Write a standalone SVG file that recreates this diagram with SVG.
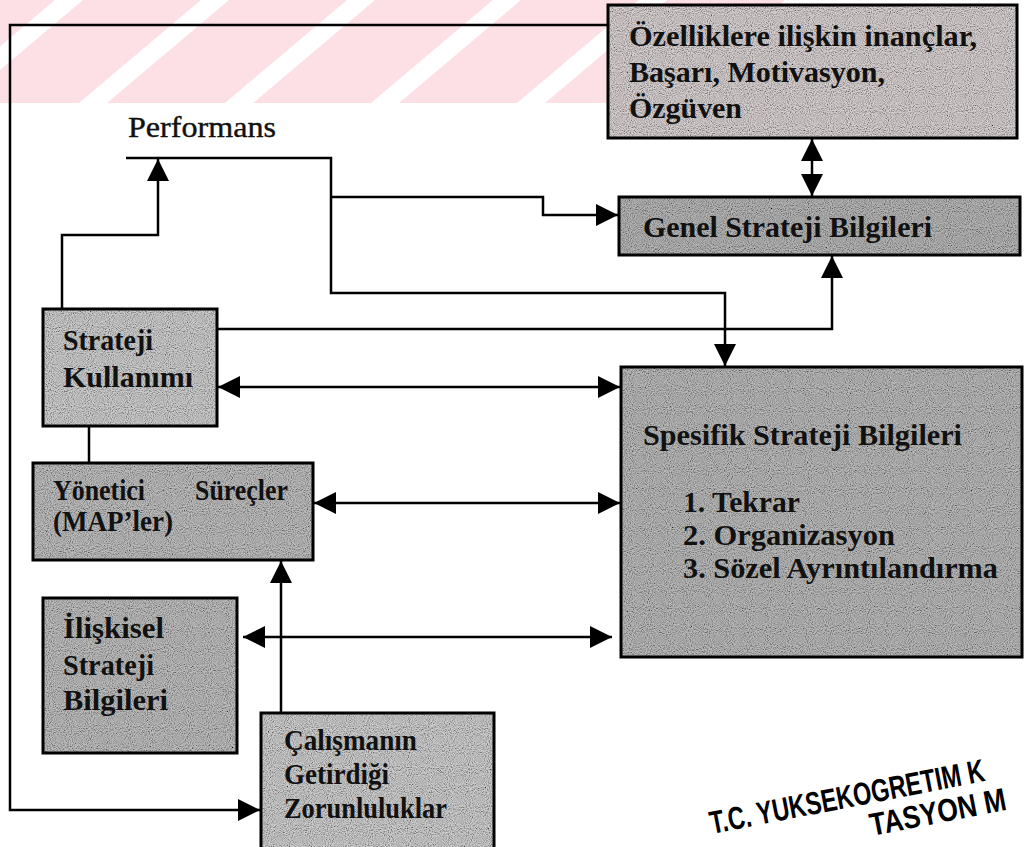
<svg xmlns="http://www.w3.org/2000/svg" width="1027" height="847" viewBox="0 0 1027 847">
<defs>
<style>
.box{fill:none;stroke:#000;stroke-width:3}
.fill{fill:#c4c4c4;filter:url(#grain)}
.ln{fill:none;stroke:#000;stroke-width:2.5}
.t{font-family:"Liberation Serif","Times New Roman",serif;font-size:30px;font-weight:bold;fill:#111}
.r{font-weight:normal;stroke:#111;stroke-width:0.4}
.stamp{font-family:"Liberation Sans",Arial,sans-serif;font-weight:bold;font-size:32px;fill:#000}
</style>
<filter id="grain" filterUnits="objectBoundingBox" x="0" y="0" width="1" height="1">
<feTurbulence type="fractalNoise" baseFrequency="0.95" numOctaves="1" seed="4" result="t"/>
<feColorMatrix in="t" type="matrix" values="0.33 0.33 0.33 0 0 0.33 0.33 0.33 0 0 0.33 0.33 0.33 0 0 0 0 0 0 1" result="g"/>
<feComponentTransfer in="g" result="c">
<feFuncR type="linear" slope="3" intercept="-0.7"/>
<feFuncG type="linear" slope="3" intercept="-0.7"/>
<feFuncB type="linear" slope="3" intercept="-0.7"/>
<feFuncA type="linear" slope="0" intercept="1"/>
</feComponentTransfer>
<feBlend in="SourceGraphic" in2="c" mode="multiply" result="m"/>
<feComposite in="m" in2="SourceGraphic" operator="in"/>
</filter>
<marker id="ah" viewBox="0 0 10 10" refX="10" refY="5" markerWidth="22" markerHeight="22" orient="auto-start-reverse" markerUnits="userSpaceOnUse">
<path d="M0,0 L10,5 L0,10 z" fill="#000"/>
</marker>
</defs>
<rect width="1027" height="847" fill="#fff"/>
<g id="watermark" fill="#fce0e6">
<polygon points="-63,0 55,0 -67,103 -185,103"/>
<polygon points="83,0 201,0 79,103 -39,103"/>
<polygon points="229,0 347,0 225,103 107,103"/>
<polygon points="375,0 493,0 371,103 253,103"/>
<polygon points="521,0 639,0 517,103 399,103"/>
<polygon points="667,0 785,0 663,103 545,103"/>
</g>
<g id="connectors">
<path class="ln" d="M608,25 H10 V810 H260" marker-end="url(#ah)"/>
<path class="ln" d="M126,158 H331 V293 H725 V366" marker-end="url(#ah)"/>
<path class="ln" d="M331,197 H543 V215 H618" marker-end="url(#ah)"/>
<path class="ln" d="M62,309 V235 H158 V159" marker-end="url(#ah)"/>
<path class="ln" d="M217,329 H832 V256" marker-end="url(#ah)"/>
<path class="ln" d="M218,387 H620" marker-start="url(#ah)" marker-end="url(#ah)"/>
<path class="ln" d="M89,426 V463"/>
<path class="ln" d="M314,503 H620" marker-start="url(#ah)" marker-end="url(#ah)"/>
<path class="ln" d="M281,713 V561" marker-end="url(#ah)"/>
<path class="ln" d="M243,637 H612" marker-start="url(#ah)" marker-end="url(#ah)"/>
<path class="ln" d="M812,139 V196" marker-start="url(#ah)" marker-end="url(#ah)"/>
</g>
<g id="ozellikler">
<rect class="fill" x="608" y="5" width="409" height="133" style="fill:#d6cfd0"/>
<rect class="box" x="608" y="5" width="409" height="133"/>
<text class="t" x="629" y="46" textLength="348" lengthAdjust="spacingAndGlyphs">Özelliklere ilişkin inançlar,</text>
<text class="t" x="629" y="82" textLength="256" lengthAdjust="spacingAndGlyphs">Başarı, Motivasyon,</text>
<text class="t" x="629" y="118" textLength="113" lengthAdjust="spacingAndGlyphs">Özgüven</text>
</g>
<g id="performans">
<text class="t r" x="128" y="137" textLength="148" lengthAdjust="spacingAndGlyphs">Performans</text>
</g>
<g id="genel">
<rect class="fill" x="619" y="197" width="401" height="58" style="fill:#b4b4b4"/>
<rect class="box" x="619" y="197" width="401" height="58"/>
<text class="t" x="643" y="237" textLength="289" lengthAdjust="spacingAndGlyphs">Genel Strateji Bilgileri</text>
</g>
<g id="strateji-kullanimi">
<rect class="fill" x="43" y="309" width="174" height="117" style="fill:#cccccc"/>
<rect class="box" x="43" y="309" width="174" height="117"/>
<text class="t" x="63" y="350" textLength="90" lengthAdjust="spacingAndGlyphs">Strateji</text>
<text class="t" x="63" y="387" textLength="130" lengthAdjust="spacingAndGlyphs">Kullanımı</text>
</g>
<g id="spesifik">
<rect class="fill" x="621" y="367" width="401" height="290" style="fill:#b8b8b8"/>
<rect class="box" x="621" y="367" width="401" height="290"/>
<text class="t" x="643" y="445" textLength="319" lengthAdjust="spacingAndGlyphs">Spesifik Strateji Bilgileri</text>
<text class="t" x="683" y="512" textLength="117" lengthAdjust="spacingAndGlyphs">1. Tekrar</text>
<text class="t" x="683" y="545" textLength="212" lengthAdjust="spacingAndGlyphs">2. Organizasyon</text>
<text class="t" x="683" y="578" textLength="315" lengthAdjust="spacingAndGlyphs">3. Sözel Ayrıntılandırma</text>
</g>
<g id="yonetici">
<rect class="fill" x="33" y="463" width="280" height="97" style="fill:#bcbcbc"/>
<rect class="box" x="33" y="463" width="280" height="97"/>
<text class="t" x="53" y="500" textLength="92" lengthAdjust="spacingAndGlyphs">Yönetici</text>
<text class="t" x="195" y="500" textLength="93" lengthAdjust="spacingAndGlyphs">Süreçler</text>
<text class="t" x="53" y="531" textLength="120" lengthAdjust="spacingAndGlyphs">(MAP’ler)</text>
</g>
<g id="iliskisel">
<rect class="fill" x="43" y="598" width="194" height="155" style="fill:#bcbcbc"/>
<rect class="box" x="43" y="598" width="194" height="155"/>
<text class="t" x="63" y="638" textLength="101" lengthAdjust="spacingAndGlyphs">İlişkisel</text>
<text class="t" x="63" y="675" textLength="91" lengthAdjust="spacingAndGlyphs">Strateji</text>
<text class="t" x="63" y="710" textLength="105" lengthAdjust="spacingAndGlyphs">Bilgileri</text>
</g>
<g id="calismanin">
<rect class="fill" x="261" y="713" width="233" height="140" style="fill:#cccccc"/>
<rect class="box" x="261" y="713" width="233" height="140"/>
<text class="t" x="284" y="750" textLength="133" lengthAdjust="spacingAndGlyphs">Çalışmanın</text>
<text class="t" x="284" y="784" textLength="105" lengthAdjust="spacingAndGlyphs">Getirdiği</text>
<text class="t" x="284" y="818" textLength="163" lengthAdjust="spacingAndGlyphs">Zorunluluklar</text>
</g>
<g id="stamp">
<text class="stamp" transform="translate(712,834) rotate(-11) scale(0.735,1)">T.C.  YUKSEKOGRETIM  K</text>
<text class="stamp" transform="translate(872,836) rotate(-11) scale(0.83,1)">TASYON M</text>
</g>
</svg>
